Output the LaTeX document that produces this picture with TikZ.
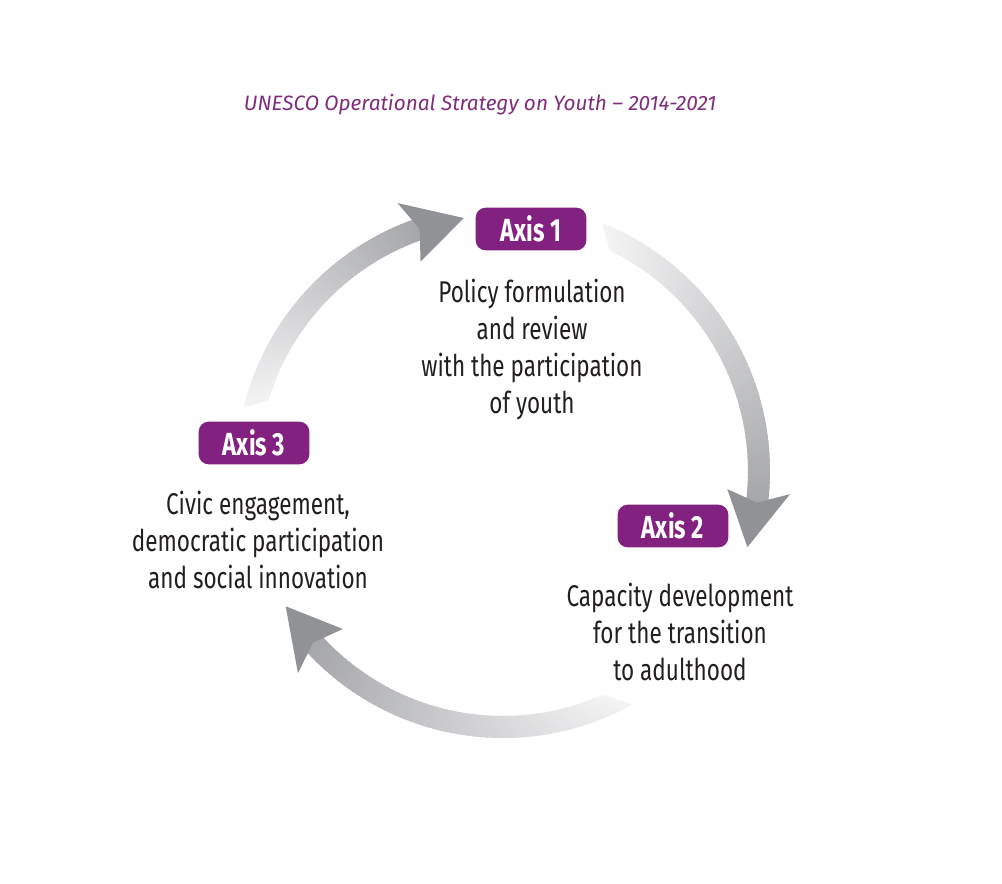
\documentclass[tikz,border=0pt]{standalone}
\usepackage{fontspec}
\setmainfont{Fira Sans}[FakeStretch=0.75]
\newfontfamily\axisfont{Fira Sans}[FakeStretch=0.74]
\newfontfamily\titlefont{Fira Sans}
\usepackage{xcolor}
\usetikzlibrary{positioning,calc}
\definecolor{unescopurple}{RGB}{131,33,128}
\definecolor{titlepurple}{RGB}{128,45,125}
\definecolor{bandlight}{RGB}{243,243,244}
\definecolor{banddark}{RGB}{165,166,169}
\definecolor{headgrey}{RGB}{145,146,150}
\definecolor{bodytext}{RGB}{35,31,32}
% #1 tail angle (outer edge), #2 tail angle (inner edge), #3 angle of the barbs
\newcommand{\cyclearrow}[3]{%
  \pgfmathsetmacro{\bandend}{#3-2.6}
  \foreach \i in {0,...,59}{%
    \pgfmathsetmacro{\ta}{\i/60}
    \pgfmathsetmacro{\tb}{(\i+1.5)/60}
    \pgfmathsetmacro{\inA}{#2+(\bandend-#2)*\ta}
    \pgfmathsetmacro{\inB}{#2+(\bandend-#2)*\tb}
    \pgfmathsetmacro{\outA}{#1+(\bandend-#1)*\ta}
    \pgfmathsetmacro{\outB}{#1+(\bandend-#1)*\tb}
    \pgfmathsetmacro{\p}{100*\ta}
    \fill[banddark!\p!bandlight]
      (\inA:245) arc[start angle=\inA, end angle=\inB, radius=245]
      -- (\outB:267) arc[start angle=\outB, end angle=\outA, radius=267] -- cycle;
  }
  \fill[headgrey] (#3:288) -- ({#3-12.7}:256) -- (#3:225) -- ({#3-2.5}:256) -- cycle;
}

\begin{document}
\begin{tikzpicture}[
  x=0.75pt,y=0.75pt,
  axisbox/.style={fill=unescopurple,text=white,rounded corners=7.5pt,
                  minimum width=83pt,minimum height=32pt,inner sep=0pt,
                  font=\axisfont\bfseries\fontsize{24}{30}\selectfont},
  bodytxt/.style={align=center,text=bodytext,
                  font=\fontsize{22.5}{27.75}\selectfont},
  titletxt/.style={text=titlepurple,font=\titlefont\itshape\fontsize{15.6}{20}\selectfont},
  ]
  \useasboundingbox (0,0) rectangle (1002,-883);
  \fill[white] (0,0) rectangle (1002,-883);

  %─── Title ──────────────────────────────────────────────────────────────────
  \node[titletxt] (title) at (480,-105)
    {UNESCO Operational Strategy on Youth – 2014-2021};

  %─── Cycle arrows (clockwise) ───────────────────────────────────────────────
  \coordinate (hub) at (503,-471);
  \begin{scope}[shift={(hub)}]
    \cyclearrow{68.2}{64.2}{-4.6}
    \cyclearrow{-61.1}{-65.9}{-135.4}
    \cyclearrow{166.3}{163.2}{111.5}
  \end{scope}

  %─── Axis 1 ─────────────────────────────────────────────────────────────────
  \node[axisbox] (axis1) at (531,-229) {Axis 1};
  \node[bodytxt] (policy) at (532,-349)
    {Policy formulation\\and review\\with the participation\\of youth};

  %─── Axis 2 ─────────────────────────────────────────────────────────────────
  \node[axisbox] (axis2) at (673,-526) {Axis 2};
  \node[bodytxt] (capacity) at (680,-632)
    {Capacity development\\for the transition\\to adulthood};

  %─── Axis 3 ─────────────────────────────────────────────────────────────────
  \node[axisbox] (axis3) at (254,-443) {Axis 3};
  \node[bodytxt] (civic) at (258,-540)
    {Civic engagement,\\democratic participation\\and social innovation};

\end{tikzpicture}
\end{document}
